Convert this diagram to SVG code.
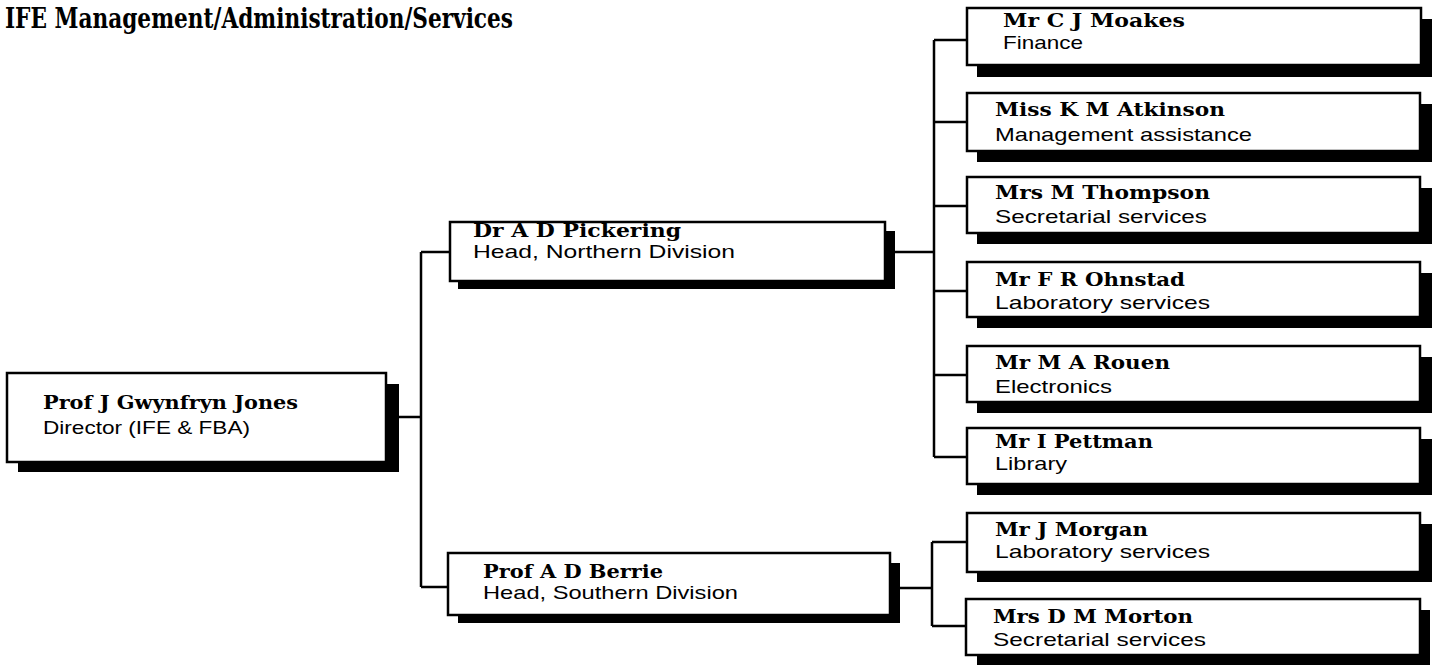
<svg xmlns="http://www.w3.org/2000/svg" width="1438" height="667" viewBox="0 0 1438 667">
<style>
.bg{fill:#fff}
.sh{fill:#000}
.bx{fill:#fff;stroke:#000;stroke-width:2.5}
.nm{font-family:"DejaVu Serif","Liberation Serif",serif;font-weight:bold;font-size:19px;fill:#000}
.ds{font-family:"Liberation Sans","DejaVu Sans",sans-serif;font-size:19px;fill:#000}
.tt{font-family:"DejaVu Serif","Liberation Serif",serif;font-weight:bold;font-size:28px;fill:#000}
.ln{fill:none;stroke:#000;stroke-width:2.5}
</style>
<rect class="bg" x="0" y="0" width="1438" height="667"/>
<text class="tt" x="5" y="28" textLength="508" lengthAdjust="spacingAndGlyphs">IFE Management/Administration/Services</text>
<g id="connectors">
<path class="ln" d="M399 417H421M421 252V587M421 252H450M421 587H448"/>
<path class="ln" d="M895 252H934M934 40V457M934 40H967M934 122H967M934 206H967M934 291H967M934 375H967M934 457H967"/>
<path class="ln" d="M900 588H932M932 542V626M932 542H967M932 626H967"/>
</g>
<g id="director">
<rect class="sh" x="18" y="384" width="381" height="88"/>
<rect class="bx" x="7" y="373" width="379" height="89"/>
<text class="nm" x="43" y="409" textLength="255" lengthAdjust="spacingAndGlyphs">Prof J Gwynfryn Jones</text>
<text class="ds" x="43" y="434" textLength="207" lengthAdjust="spacingAndGlyphs">Director (IFE &amp; FBA)</text>
</g>
<g id="pickering">
<rect class="sh" x="458" y="231" width="437" height="58"/>
<rect class="bx" x="450" y="222" width="435" height="59"/>
<text class="nm" x="473" y="237" textLength="208" lengthAdjust="spacingAndGlyphs">Dr A D Pickering</text>
<text class="ds" x="473" y="258" textLength="262" lengthAdjust="spacingAndGlyphs">Head, Northern Division</text>
</g>
<g id="berrie">
<rect class="sh" x="458" y="563" width="442" height="60"/>
<rect class="bx" x="448" y="553" width="442" height="62"/>
<text class="nm" x="483" y="578" textLength="180" lengthAdjust="spacingAndGlyphs">Prof A D Berrie</text>
<text class="ds" x="483" y="599" textLength="255" lengthAdjust="spacingAndGlyphs">Head, Southern Division</text>
</g>
<g id="moakes">
<rect class="sh" x="977" y="19" width="455" height="58"/>
<rect class="bx" x="967" y="8" width="454" height="57"/>
<text class="nm" x="1003" y="27" textLength="182" lengthAdjust="spacingAndGlyphs">Mr C J Moakes</text>
<text class="ds" x="1003" y="49" textLength="80" lengthAdjust="spacingAndGlyphs">Finance</text>
</g>
<g id="atkinson">
<rect class="sh" x="977" y="104" width="455" height="58"/>
<rect class="bx" x="967" y="93" width="453" height="58"/>
<text class="nm" x="995" y="116" textLength="230" lengthAdjust="spacingAndGlyphs">Miss K M Atkinson</text>
<text class="ds" x="995" y="141" textLength="257" lengthAdjust="spacingAndGlyphs">Management assistance</text>
</g>
<g id="thompson">
<rect class="sh" x="977" y="188" width="455" height="56"/>
<rect class="bx" x="967" y="177" width="453" height="56"/>
<text class="nm" x="995" y="199" textLength="215" lengthAdjust="spacingAndGlyphs">Mrs M Thompson</text>
<text class="ds" x="995" y="223" textLength="212" lengthAdjust="spacingAndGlyphs">Secretarial services</text>
</g>
<g id="ohnstad">
<rect class="sh" x="977" y="273" width="455" height="55"/>
<rect class="bx" x="967" y="262" width="453" height="55"/>
<text class="nm" x="995" y="286" textLength="190" lengthAdjust="spacingAndGlyphs">Mr F R Ohnstad</text>
<text class="ds" x="995" y="309" textLength="215" lengthAdjust="spacingAndGlyphs">Laboratory services</text>
</g>
<g id="rouen">
<rect class="sh" x="977" y="357" width="455" height="56"/>
<rect class="bx" x="967" y="346" width="453" height="56"/>
<text class="nm" x="995" y="369" textLength="175" lengthAdjust="spacingAndGlyphs">Mr M A Rouen</text>
<text class="ds" x="995" y="393" textLength="117" lengthAdjust="spacingAndGlyphs">Electronics</text>
</g>
<g id="pettman">
<rect class="sh" x="977" y="439" width="455" height="56"/>
<rect class="bx" x="967" y="428" width="453" height="56"/>
<text class="nm" x="995" y="448" textLength="158" lengthAdjust="spacingAndGlyphs">Mr I Pettman</text>
<text class="ds" x="995" y="470" textLength="72" lengthAdjust="spacingAndGlyphs">Library</text>
</g>
<g id="morgan">
<rect class="sh" x="977" y="524" width="455" height="58"/>
<rect class="bx" x="967" y="513" width="453" height="59"/>
<text class="nm" x="995" y="536" textLength="153" lengthAdjust="spacingAndGlyphs">Mr J Morgan</text>
<text class="ds" x="995" y="558" textLength="215" lengthAdjust="spacingAndGlyphs">Laboratory services</text>
</g>
<g id="morton">
<rect class="sh" x="977" y="610" width="453" height="55"/>
<rect class="bx" x="966" y="599" width="454" height="56"/>
<text class="nm" x="993" y="623" textLength="200" lengthAdjust="spacingAndGlyphs">Mrs D M Morton</text>
<text class="ds" x="993" y="646" textLength="213" lengthAdjust="spacingAndGlyphs">Secretarial services</text>
</g>
</svg>
